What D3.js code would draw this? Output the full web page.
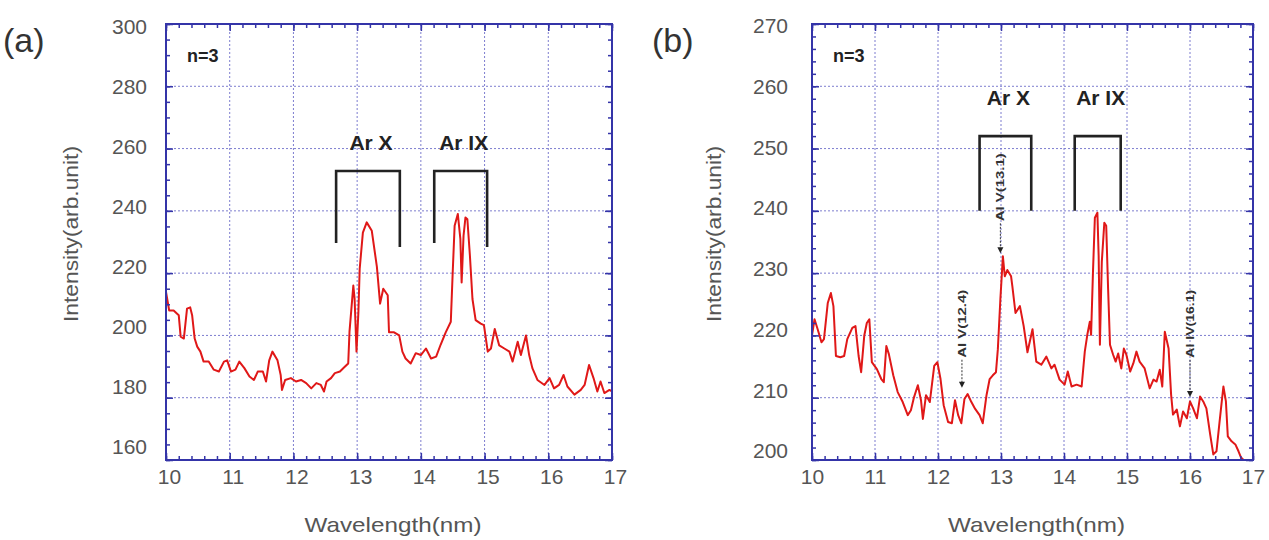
<!DOCTYPE html>
<html>
<head>
<meta charset="utf-8">
<script src="https://cdn.jsdelivr.net/npm/d3@7"></script>
<style>
  body { margin: 0; background: #fff; }
  #chart { width: 1269px; height: 540px; }
  text { font-family: "Liberation Sans", Arial, sans-serif; }
</style>
</head>
<body>
<div id="chart"></div>
<script>
// wavelength (nm) and intensity
const waveA = [10.00, 10.05, 10.12, 10.20, 10.23, 10.28, 10.33, 10.38, 10.41, 10.45, 10.49, 10.54, 10.59, 10.67, 10.75, 10.83, 10.91, 10.96,
  11.02, 11.09, 11.15, 11.23, 11.31, 11.38, 11.44, 11.52, 11.57, 11.62, 11.67, 11.75, 11.80, 11.82, 11.87, 11.96,
  12.04, 12.12, 12.20, 12.28, 12.36, 12.43, 12.48, 12.52, 12.59, 12.65, 12.73, 12.81, 12.86, 12.88, 12.94, 12.96, 12.99,
  13.02, 13.04, 13.09, 13.15, 13.23, 13.31, 13.36, 13.41, 13.48, 13.50, 13.58, 13.66, 13.71, 13.76, 13.84, 13.92,
  14.00, 14.08, 14.16, 14.24, 14.31, 14.39, 14.47, 14.50, 14.53, 14.58, 14.62, 14.64, 14.67, 14.70, 14.73, 14.77, 14.81, 14.86, 14.94, 14.99,
  15.05, 15.10, 15.16, 15.23, 15.31, 15.39, 15.44, 15.52, 15.57, 15.65, 15.70, 15.75, 15.83, 15.94,
  16.02, 16.09, 16.17, 16.24, 16.30, 16.41, 16.51, 16.57, 16.64, 16.71, 16.77, 16.82, 16.88, 16.96, 17.00];
const intensityA = [214, 208, 208, 206.5, 199.6, 199, 208.6, 209, 206.5, 199, 196.4, 194.8, 191.6, 191.6, 189, 188.4, 191.6, 192,
  188.4, 189, 191.6, 189.5, 186.8, 185.7, 188.4, 188.4, 185.2, 192, 194.8, 192, 187.3, 182.5, 185.7, 186.3,
  185.2, 185.7, 184.7, 183, 184.7, 184.1, 182, 185.2, 186.3, 187.9, 188.4, 190, 191, 201.2, 216, 211.8, 194.8,
  207.6, 221.4, 233, 236.3, 233.6, 222, 210.2, 215, 212.9, 201, 201, 200, 194.8, 192.6, 191, 194.3,
  193.7, 195.8, 192.6, 193.2, 197, 201, 204.4, 220.3, 235.2, 239, 231, 217, 232, 237.9, 237.3, 225.6, 211.7, 204.9, 203.8, 203.3,
  194.8, 195.8, 202.1, 196.8, 195.8, 194.8, 191.6, 198, 193.7, 200, 193.7, 189.5, 185.7, 184.1,
  186.3, 183, 184.1, 187.3, 183.6, 181, 182.5, 184.1, 190.5, 186.3, 182, 185.2, 181.5, 182.5, 182];

// wavelength (nm) and intensity
const waveB = [10.00, 10.04, 10.09, 10.15, 10.19, 10.25, 10.30, 10.34, 10.38, 10.45, 10.51, 10.56, 10.64, 10.69, 10.74, 10.78, 10.83, 10.87, 10.91, 10.95,
  11.03, 11.10, 11.14, 11.18, 11.22, 11.29, 11.36, 11.44, 11.52, 11.57, 11.62, 11.68, 11.73, 11.76, 11.81, 11.87, 11.94, 11.99,
  12.04, 12.09, 12.16, 12.22, 12.27, 12.32, 12.37, 12.42, 12.47, 12.53, 12.59, 12.66, 12.71, 12.77, 12.82, 12.87, 12.92, 12.95, 12.99,
  13.03, 13.06, 13.10, 13.16, 13.18, 13.23, 13.30, 13.36, 13.42, 13.50, 13.56, 13.64, 13.72, 13.80, 13.85, 13.93,
  14.01, 14.06, 14.12, 14.20, 14.28, 14.33, 14.37, 14.41, 14.43, 14.46, 14.49, 14.53, 14.55, 14.57, 14.60, 14.64, 14.67, 14.70, 14.73, 14.78, 14.82, 14.86, 14.91, 14.95, 14.99,
  15.05, 15.10, 15.15, 15.20, 15.28, 15.36, 15.42, 15.47, 15.52, 15.56, 15.60, 15.66, 15.70, 15.73, 15.79, 15.84, 15.89, 15.95,
  16.00, 16.05, 16.11, 16.16, 16.21, 16.26, 16.32, 16.37, 16.42, 16.47, 16.53, 16.57, 16.60, 16.66, 16.72, 16.77, 16.81, 16.85];
const intensityB = [220, 222.6, 221, 218.9, 219.4, 225.2, 226.8, 224.7, 216.7, 216.5, 216.7, 219.4, 221.2, 221.5, 216.7, 214.1, 220, 222, 222.6, 215.7,
  214.6, 213, 212.5, 218.3, 217, 213.6, 210.9, 209.3, 207.2, 208, 210.1, 212, 209.6, 206.6, 210.4, 209.3, 215.1, 215.7,
  213, 208.8, 206.1, 205.9, 209.6, 207.2, 205.9, 209.8, 210.6, 209.3, 208.2, 207.2, 205.9, 210.4, 213, 213.6, 214.1, 217.8, 225.8,
  232.7, 229.5, 230.5, 229.5, 227.9, 223.6, 224.7, 221.5, 217.3, 221, 215.8, 215.3, 216.6, 214.7, 215.3, 212.9,
  212.1, 214.2, 211.8, 212.1, 211.8, 217.4, 220.1, 222.2, 220.1, 230.2, 238.9, 239.7, 232.8, 218.5, 231.8, 238.1, 237.6, 227.5, 218.5, 216.9, 215.8, 217.1, 214.7, 217.9, 216.9,
  214.2, 215.5, 217.4, 215.8, 214.7, 211.5, 212.9, 212.6, 214.5, 211.8, 220.6, 217.9, 210.5, 207.3, 208.1, 205.4, 207.8, 206.7,
  209.4, 208.3, 206.7, 210.2, 209.4, 208.3, 204.1, 200.9, 201.4, 206.2, 211.8, 209.4, 203.8, 203.0, 202.5, 201.4, 200.4, 200];

// tick values
const xTicks = [10, 11, 12, 13, 14, 15, 16, 17];
const yTicksA = [160, 180, 200, 220, 240, 260, 280, 300];
const yTicksB = [200, 210, 220, 230, 240, 250, 260, 270];

// line groups: name, left edge, right edge (nm), top, left foot, right foot (intensity)
const groupNames = ["Ar X", "Ar IX"];
const groupStartA = [12.67, 14.21];
const groupEndA = [13.67, 15.04];
const groupTopA = [252.8, 252.8];
const groupFootLA = [229.7, 229.7];
const groupFootRA = [228.4, 228.4];
const groupLabelA = [259.5, 259.5];

const groupStartB = [12.66, 14.17];
const groupEndB = [13.48, 14.90];
const groupTopB = [252, 252];
const groupFootLB = [240, 240];
const groupFootRB = [240, 240];
const groupLabelB = [257, 257];

// marked Al lines in panel (b): label, wavelength, arrow tip, label foot
const alLabels = ["Al V(12.4)", "Al V(13.1)", "Al IV(16.1)"];
const alWave = [12.38, 12.99, 16.0];
const alTip = [211.6, 233.2, 210.1];
const alFoot = [216.1, 238.0, 216.1];

const svg = d3.select("#chart")
  .append("svg")
  .attr("width", 1269)
  .attr("height", 540);

svg.append("rect").attr("width", 1269).attr("height", 540).attr("fill", "#fff");

function drawPanel(p) {

  const xScale = d3.scaleLinear().domain([10, 17]).range([p.left, p.right]);
  const yScale = d3.scaleLinear().domain(p.yDomain).range([p.bottom, p.top]);
  // tick labels sit on a slightly tighter scale than the grid in the original
  const yLabelScale = d3.scaleLinear().domain(p.yDomain).range(p.labelRange);

  const g = svg.append("g");

  // dotted grid
  g.selectAll(".vgrid")
    .data(xTicks.slice(1, -1))
    .enter().append("line")
    .attr("x1", d => xScale(d)).attr("x2", d => xScale(d))
    .attr("y1", p.top).attr("y2", p.bottom)
    .attr("stroke", "#7d7dcf").attr("stroke-width", 1)
    .attr("stroke-dasharray", "2,2");

  g.selectAll(".hgrid")
    .data(p.yTicks.slice(1, -1))
    .enter().append("line")
    .attr("x1", p.left).attr("x2", p.right)
    .attr("y1", d => yScale(d)).attr("y2", d => yScale(d))
    .attr("stroke", "#7d7dcf").attr("stroke-width", 1)
    .attr("stroke-dasharray", "2,2");

  // spectrum
  const line = d3.line()
    .x(d => xScale(d[0]))
    .y(d => yScale(d[1]));

  g.append("path")
    .datum(d3.zip(p.wave, p.intensity))
    .attr("d", line)
    .attr("fill", "none")
    .attr("stroke", "#e01818")
    .attr("stroke-width", 2)
    .attr("stroke-linejoin", "round");

  // inward ticks on all four sides
  const minorX = d3.range(10, 17.001, 0.2);
  const minorY = d3.range(p.yDomain[0], p.yDomain[1] + 0.001, p.minorStep);

  function tickAxis(axis, values, size, transform) {
    const a = g.append("g")
      .attr("transform", transform)
      .call(axis.tickValues(values).tickSize(-size).tickFormat(""));
    a.select(".domain").remove();
    a.selectAll("line").attr("stroke", "#3434a8").attr("stroke-width", 1.5);
  }
  tickAxis(d3.axisBottom(xScale), minorX, 4, `translate(0,${p.bottom})`);
  tickAxis(d3.axisTop(xScale), minorX, 4, `translate(0,${p.top})`);
  tickAxis(d3.axisBottom(xScale), xTicks, 7, `translate(0,${p.bottom})`);
  tickAxis(d3.axisTop(xScale), xTicks, 7, `translate(0,${p.top})`);
  tickAxis(d3.axisLeft(yScale), minorY, 4, `translate(${p.left},0)`);
  tickAxis(d3.axisRight(yScale), minorY, 4, `translate(${p.right},0)`);
  tickAxis(d3.axisLeft(yScale), p.yTicks, 7, `translate(${p.left},0)`);
  tickAxis(d3.axisRight(yScale), p.yTicks, 7, `translate(${p.right},0)`);

  // frame
  g.append("rect")
    .attr("x", p.left).attr("y", p.top)
    .attr("width", p.right - p.left).attr("height", p.bottom - p.top)
    .attr("fill", "none")
    .attr("stroke", "#3434a8")
    .attr("stroke-width", 2);

  // tick labels
  const xLab = g.append("g")
    .attr("transform", `translate(${p.xLabelShift},${p.bottom + 4})`)
    .call(d3.axisBottom(xScale).tickValues(xTicks).tickSize(0).tickPadding(0).tickFormat(d3.format("d")));
  xLab.select(".domain").remove();
  xLab.selectAll("text")
    .attr("dy", "0.95em")
    .attr("font-size", 21)
    .attr("font-family", "Liberation Sans, Arial, sans-serif")
    .attr("fill", "#555");

  const yLab = g.append("g")
    .attr("transform", `translate(${p.labelEdge},0)`)
    .call(d3.axisLeft(yLabelScale).tickValues(p.yTicks).tickSize(0).tickPadding(0));
  yLab.select(".domain").remove();
  yLab.selectAll("text")
    .attr("font-size", 21)
    .attr("font-family", "Liberation Sans, Arial, sans-serif")
    .attr("fill", "#555");

  // axis titles
  g.append("text")
    .attr("x", (p.left + p.right) / 2 + 4)
    .attr("y", 532)
    .attr("text-anchor", "middle")
    .attr("font-size", 21)
    .attr("fill", "#555")
    .attr("textLength", 177)
    .attr("lengthAdjust", "spacingAndGlyphs")
    .text("Wavelength(nm)");

  g.append("text")
    .attr("transform", `translate(${p.titleX},${234}) rotate(-90)`)
    .attr("text-anchor", "middle")
    .attr("font-size", 21)
    .attr("fill", "#555")
    .attr("textLength", 176)
    .attr("lengthAdjust", "spacingAndGlyphs")
    .text("Intensity(arb.unit)");

  // panel letter
  g.append("text")
    .attr("x", p.letterX)
    .attr("y", 52)
    .attr("font-size", 34)
    .attr("fill", "#333")
    .text(p.letter);

  g.append("text")
    .attr("x", p.left + 21)
    .attr("y", p.top + 38)
    .attr("font-size", 18)
    .attr("font-weight", "bold")
    .attr("fill", "#222")
    .text("n=3");

  // line group brackets
  groupNames.forEach(function(name, i) {
    const x0 = xScale(p.gStart[i]);
    const x1 = xScale(p.gEnd[i]);
    g.append("path")
      .attr("d", `M${x0},${yScale(p.gFootL[i])}V${yScale(p.gTop[i])}H${x1}V${yScale(p.gFootR[i])}`)
      .attr("fill", "none")
      .attr("stroke", "#222")
      .attr("stroke-width", 2.6);
    g.append("text")
      .attr("x", (x0 + x1) / 2 + 3)
      .attr("y", yScale(p.gLabel[i]))
      .attr("text-anchor", "middle")
      .attr("font-size", 21)
      .attr("font-weight", "bold")
      .attr("fill", "#222")
      .text(name);
  });

  return { xScale: xScale, yScale: yScale, g: g };
}

drawPanel({
  left: 166, right: 612, top: 24, bottom: 460,
  yDomain: [160, 300], yTicks: yTicksA, minorStep: 5,
  labelRange: [447, 27], labelEdge: 147, xLabelShift: 3,
  wave: waveA, intensity: intensityA,
  titleX: 78, letter: "(a)", letterX: 3,
  gStart: groupStartA, gEnd: groupEndA, gTop: groupTopA,
  gFootL: groupFootLA, gFootR: groupFootRA, gLabel: groupLabelA
});

const panelB = drawPanel({
  left: 812, right: 1253, top: 24, bottom: 460,
  yDomain: [200, 270], yTicks: yTicksB, minorStep: 2,
  labelRange: [451, 26], labelEdge: 788, xLabelShift: 0,
  wave: waveB, intensity: intensityB,
  titleX: 721, letter: "(b)", letterX: 652,
  gStart: groupStartB, gEnd: groupEndB, gTop: groupTopB,
  gFootL: groupFootLB, gFootR: groupFootRB, gLabel: groupLabelB
});

// Al line markers in panel (b)
alLabels.forEach(function(label, i) {
  const x = panelB.xScale(alWave[i]);
  const tip = panelB.yScale(alTip[i]);
  const foot = panelB.yScale(alFoot[i]);

  panelB.g.append("line")
    .attr("x1", x).attr("x2", x)
    .attr("y1", foot).attr("y2", tip - 4)
    .attr("stroke", "#333")
    .attr("stroke-width", 1)
    .attr("stroke-dasharray", "2,1.5");

  panelB.g.append("path")
    .attr("d", `M${x - 3},${tip - 6}L${x + 3},${tip - 6}L${x},${tip}Z`)
    .attr("fill", "#222");

  panelB.g.append("text")
    .attr("transform", `translate(${x + 4},${foot - 2}) rotate(-90)`)
    .attr("font-size", 11)
    .attr("font-weight", "bold")
    .attr("fill", "#333")
    .attr("textLength", 68)
    .attr("lengthAdjust", "spacingAndGlyphs")
    .text(label);
});
</script>
</body>
</html>
